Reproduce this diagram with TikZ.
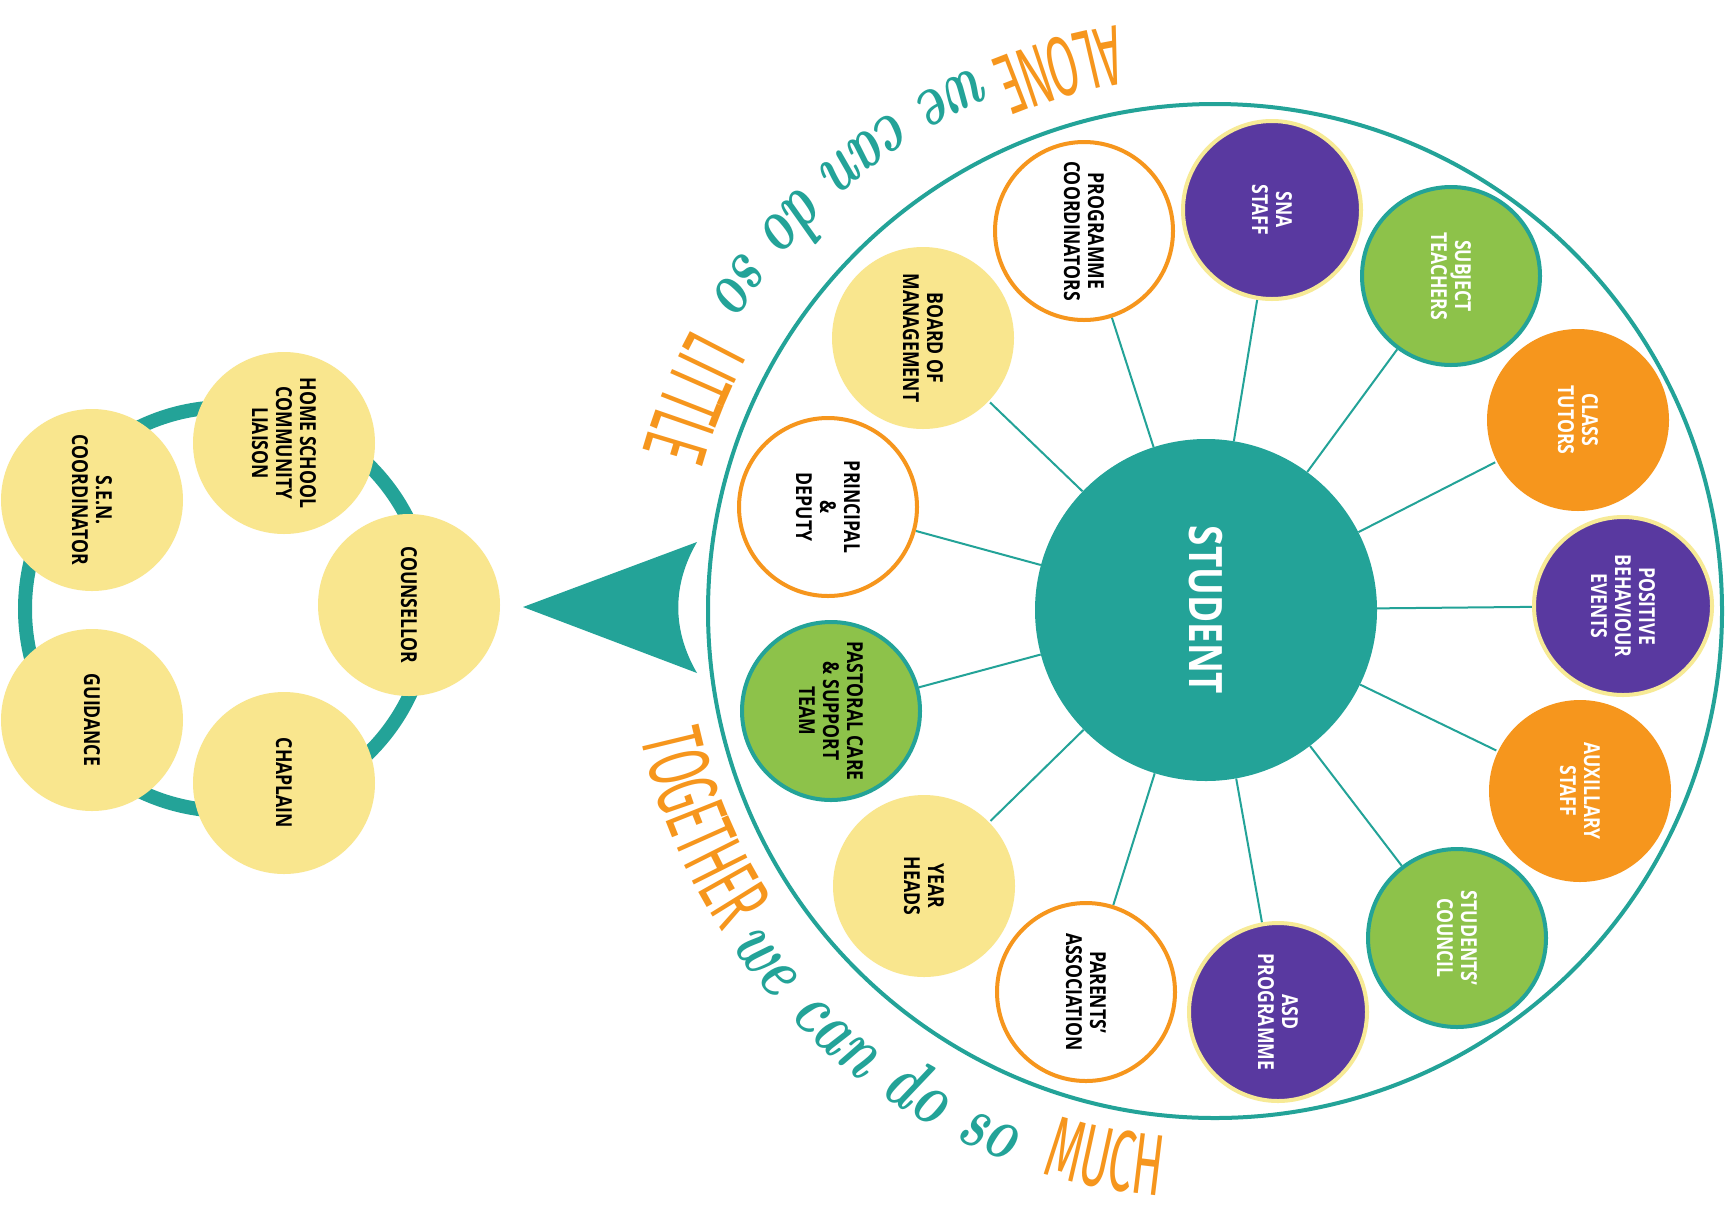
\documentclass[tikz,border=0pt]{standalone}
\usepackage{fontspec}
\usetikzlibrary{decorations.text}

% label face: a condensed bold sans
\newfontfamily\lblfont{Open Sans}[FakeStretch=0.8]
% tall narrow capitals for the motto
\newfontfamily\capfont{Fira Sans}[FakeStretch=0.52]
% narrow cursive-looking lowercase for the motto
\newfontfamily\handfont{Latin Modern Roman}[FakeStretch=0.72]

\definecolor{stteal}{RGB}{35,163,152}
\definecolor{storange}{RGB}{246,150,29}
\definecolor{stpurple}{RGB}{89,57,160}
\definecolor{stgreen}{RGB}{141,194,74}
\definecolor{styellow}{RGB}{249,230,142}
\definecolor{styellowline}{RGB}{247,234,150}

\pgfdeclarelayer{bg}
\pgfsetlayers{bg,main}

\tikzset{
  sat/.style={circle, inner sep=0pt, minimum size=178pt, line width=4pt,
    align=center, rotate=-90,
    font=\lblfont\bfseries\fontsize{22}{24}\selectfont},
  whitesat/.style={sat, fill=white, draw=storange, text=black},
  purplesat/.style={sat, fill=stpurple, draw=styellowline, text=white},
  greensat/.style={sat, fill=stgreen, draw=stteal, text=white},
  orangesat/.style={sat, fill=storange, minimum size=182pt, text=white},
  yellowsat/.style={sat, fill=styellow, minimum size=182pt, text=black},
  conn/.style={draw=stteal, line width=2pt},
}

\begin{document}
\begin{tikzpicture}[x=1pt,y=1pt]
\begin{pgfonlayer}{bg}
  \fill[white] (0,0) rectangle (1736,-1227);
\end{pgfonlayer}
\useasboundingbox (0,0) rectangle (1736,-1227);

% ---------- main wheel ----------
\coordinate (C) at (1215,-611);
\draw[stteal, line width=4pt] (C) circle[radius=507];

\node[circle, fill=stteal, minimum size=342pt, inner sep=0pt, text=white,
      rotate=-90, font=\lblfont\bfseries\fontsize{46}{48}\selectfont]
      (student) at (1206,-610) {STUDENT};

\node[whitesat]  (prog)      at (1084,-231) {PROGRAMME\\COORDINATORS};
\node[purplesat] (sna)       at (1272,-210) {SNA\\STAFF};
\node[greensat]  (subj)      at (1451,-276) {SUBJECT\\TEACHERS};
\node[orangesat] (tutors)    at (1578,-420) {CLASS\\TUTORS};
\node[purplesat] (pbe)       at (1623,-606) {POSITIVE\\BEHAVIOUR\\EVENTS};
\node[orangesat] (aux)       at (1580,-791) {AUXILLARY\\STAFF};
\node[greensat]  (council)   at (1457,-938) {STUDENTS’\\COUNCIL};
\node[purplesat] (asd)       at (1278,-1012) {ASD\\PROGRAMME};
\node[whitesat]  (parents)   at (1086,-992) {PARENTS’\\ASSOCIATION};
\node[yellowsat] (yearheads) at (924,-886)  {YEAR\\HEADS};
\node[greensat, text=black] (pastoral) at (831,-711) {PASTORAL CARE\\\& SUPPORT\\TEAM};
\node[whitesat]  (principal) at (828,-507)  {PRINCIPAL\\\&\\DEPUTY};
\node[yellowsat] (board)     at (923,-338)  {BOARD OF\\MANAGEMENT};

\begin{pgfonlayer}{bg}
  \foreach \s in {prog,sna,subj,tutors,pbe,aux,council,asd,parents,yearheads,pastoral,principal,board}
    \draw[conn] (student) -- (\s);
\end{pgfonlayer}

% ---------- pointer ----------
\coordinate (tip) at (523,-607);
\coordinate (wingA) at (697,-542);
\coordinate (wingB) at (697,-673);
\fill[stteal] (tip) -- (wingA) .. controls (672,-585) and (672,-630) .. (wingB) -- cycle;

% ---------- support ring ----------
\coordinate (ringc) at (227,-609);
\begin{pgfonlayer}{bg}
  \draw[stteal, line width=14pt] (ringc) circle[radius=202];
\end{pgfonlayer}
\node[yellowsat] (hscl)  at (284,-443) {HOME SCHOOL\\COMMUNITY\\LIAISON};
\node[yellowsat] (sen)   at (92,-500)  {S.E.N.\\COORDINATOR};
\node[yellowsat] (couns) at (409,-605) {COUNSELLOR};
\node[yellowsat] (chap)  at (284,-783) {CHAPLAIN};
\node[yellowsat] (guid)  at (92,-720)  {GUIDANCE};

% ---------- motto along the wheel ----------
\path[decorate, decoration={text along path, text align=center,
  text={|\capfont\fontsize{85}{88}\selectfont\color{storange}|ALONE |\handfont\bfseries\itshape\fontsize{76}{78}\selectfont\color{stteal}|we can do so |\capfont\fontsize{90}{92}\selectfont\color{storange}| LITTLE}}]
  (C) ++(98:594) arc[start angle=98, end angle=166, radius=594];

\path[decorate, decoration={text along path, text align=center,
  text={|\capfont\fontsize{87}{90}\selectfont\color{storange}|TOGETHER |\handfont\bfseries\itshape\fontsize{76}{78}\selectfont\color{stteal}|we can do so |\capfont\fontsize{87}{90}\selectfont\color{storange}| MUCH}}]
  (C) ++(193:588) arc[start angle=193, end angle=264, radius=588];
\end{tikzpicture}
\end{document}
